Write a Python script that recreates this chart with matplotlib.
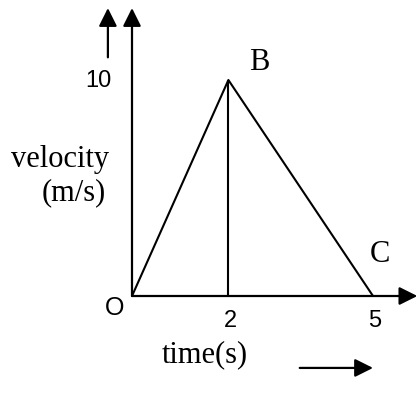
import matplotlib
matplotlib.use("Agg")
import matplotlib.pyplot as plt

# data
time = [0, 2, 5]
velocity = [0, 10, 0]
point_labels = ["O", "B", "C"]
x_ticks = [2, 5]
y_ticks = [10]

fig = plt.figure(figsize=(4.18, 3.94), dpi=100)
ax = fig.add_axes([0, 0, 1, 1])
sx, sy = 48.2, 21.6
ax.set_xlim(-132 / sx, (418 - 132) / sx)
ax.set_ylim(-(394 - 296) / sy, 296 / sy)
ax.axis("off")

lw = 1.5
ax.plot(time, velocity, color="black", lw=lw, solid_capstyle="butt")
ax.vlines(time[1], 0, velocity[1], color="black", lw=lw)

arrow = dict(arrowstyle="-|>,head_length=1.1,head_width=0.55", lw=1.6,
             color="black", shrinkA=0, shrinkB=0, mutation_scale=10)
# axes
ax.annotate("", xy=(0, 13.33), xytext=(0, 0), arrowprops=arrow)
ax.annotate("", xy=(5.92, 0), xytext=(0, 0), arrowprops=arrow)
# direction arrows
ax.annotate("", xy=(-0.5, 13.33), xytext=(-0.5, 11.05), arrowprops=arrow)
ax.annotate("", xy=(5.0, -3.33), xytext=(3.48, -3.33), arrowprops=arrow)

sans = "Liberation Sans"
serif = "Liberation Serif"
for xt in x_ticks:
    ax.text(xt + 0.04, -1.16, str(xt), ha="center", va="center", fontsize=17, family=sans)
for yt in y_ticks:
    ax.text(-0.42, yt - 0.05, str(yt), ha="right", va="center", fontsize=17, family=sans)
ax.text(-0.37, -0.56, point_labels[0], ha="center", va="center", fontsize=18, family=sans)
ax.text(2.63, 10.83, point_labels[1], ha="center", va="center", fontsize=22, family=serif)
ax.text(5.15, 1.9, point_labels[2], ha="center", va="center", fontsize=22, family=serif)

ax.text(-1.49, 6.3, "velocity", ha="center", va="center", fontsize=22, family=serif)
ax.text(-1.20, 4.77, "(m/s)", ha="center", va="center", fontsize=22, family=serif)
ax.text(1.515, -2.73, "time(s)", ha="center", va="center", fontsize=22, family=serif)

fig.savefig("out.png", dpi=100)
